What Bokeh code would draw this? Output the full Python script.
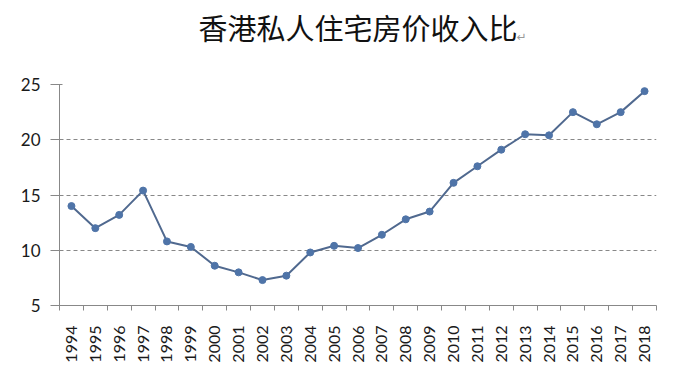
import math
from bokeh.plotting import figure
from bokeh.models import FixedTicker, Range1d, Label, Title
from bokeh.embed import file_html
from bokeh.resources import INLINE

title_text = "香港私人住宅房价收入比"
title_mark = "↵"
years = ["1994", "1995", "1996", "1997", "1998", "1999", "2000", "2001", "2002",
         "2003", "2004", "2005", "2006", "2007", "2008", "2009", "2010", "2011",
         "2012", "2013", "2014", "2015", "2016", "2017", "2018"]
ratio = [14.0, 12.0, 13.2, 15.4, 10.8, 10.3, 8.6, 8.0, 7.3, 7.7, 9.8, 10.4, 10.2,
         11.4, 12.8, 13.5, 16.1, 17.6, 19.1, 20.5, 20.4, 22.5, 21.4, 22.5, 24.4]
y_ticks = [5, 10, 15, 20, 25]

xs = list(range(len(years)))

p = figure(width=676, height=379, output_backend="svg", toolbar_location=None,
           x_range=Range1d(-0.5, len(years) - 0.5), y_range=Range1d(5, 25),
           min_border_left=59, min_border_right=20, min_border_top=84, min_border_bottom=74)
p.outline_line_color = None
p.background_fill_color = "white"

p.title.text = title_text
p.title.align = "center"
p.title.text_font = "Noto Sans CJK SC"
p.title.text_font_size = "29px"
p.title.text_font_style = "normal"
p.title.text_color = "#111111"
p.title.standoff = 0

spacer = Title(text=" ", text_font_size="19px", standoff=0)
p.add_layout(spacer, "above")
p.add_layout(Label(x=457, y=25, x_units="screen", y_units="screen", text=title_mark,
                   text_font="DejaVu Sans", text_font_size="12px", text_color="#999999",
                   text_baseline="middle"), "above")

p.line(xs, ratio, line_color="#50698f", line_width=2)
p.scatter(xs, ratio, size=7, fill_color="#4f74a8", line_color="#4f74a8")

# x axis
xa = p.xaxis[0]
xa.ticker = FixedTicker(ticks=xs, minor_ticks=[i - 0.5 for i in range(len(years) + 1)])
xa.major_label_overrides = {i: y for i, y in enumerate(years)}
xa.major_label_orientation = math.pi / 2
xa.major_tick_out = 0
xa.major_tick_in = 0
xa.minor_tick_out = 5
xa.minor_tick_in = 0
xa.minor_tick_line_color = "#888888"
xa.axis_line_color = "#888888"
xa.major_label_text_font = "Lato"
xa.major_label_text_font_size = "16px"
xa.major_label_text_color = "#1a1a1a"
xa.major_label_standoff = 15

# y axis
ya = p.yaxis[0]
ya.ticker = FixedTicker(ticks=y_ticks)
ya.major_tick_out = 9
ya.major_tick_in = 3
ya.minor_tick_out = 0
ya.minor_tick_in = 0
ya.major_tick_line_color = "#888888"
ya.axis_line_color = "#888888"
ya.major_label_text_font = "Lato"
ya.major_label_text_font_size = "17px"
ya.major_label_text_color = "#1a1a1a"
ya.major_label_standoff = 10

p.xgrid.visible = False
p.ygrid.ticker = FixedTicker(ticks=y_ticks[1:])
p.ygrid.grid_line_color = "#888888"
p.ygrid.grid_line_dash = "4 3"
p.ygrid.grid_line_width = 1

open("out.html", "w").write(file_html(p, INLINE))
